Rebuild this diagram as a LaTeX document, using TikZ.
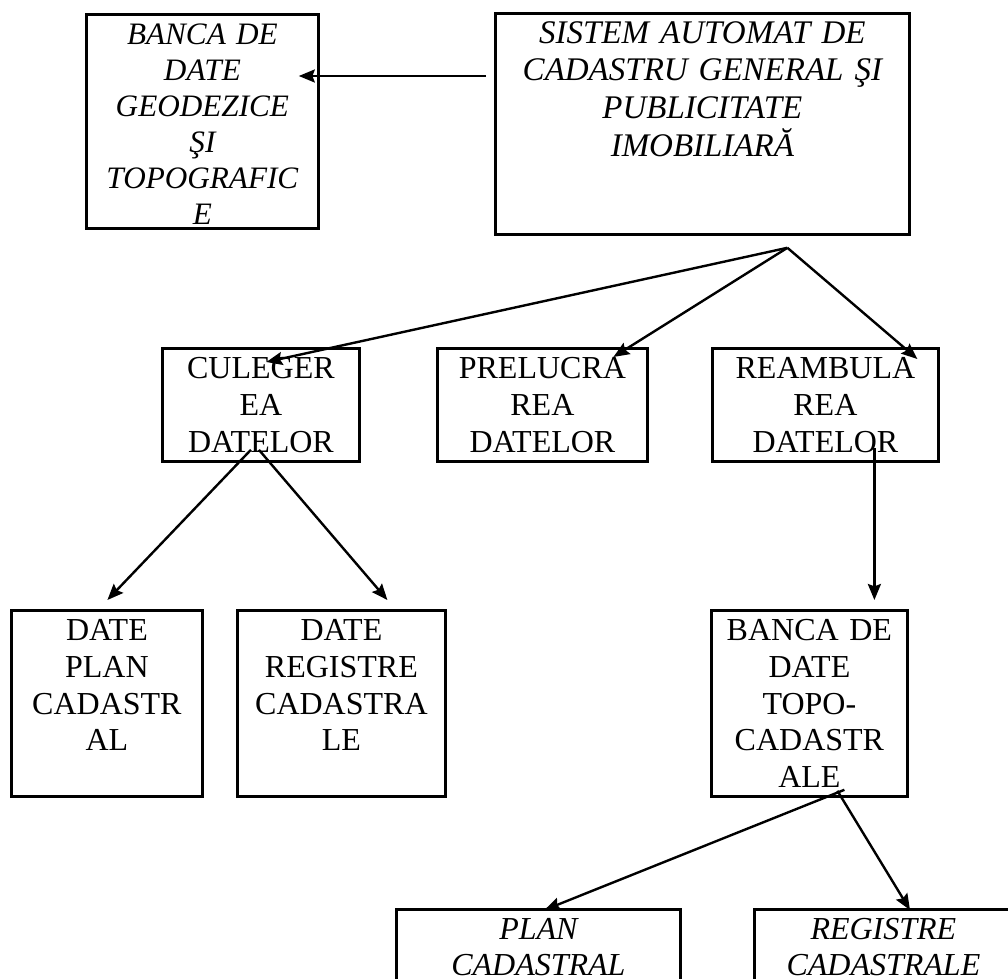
\documentclass[tikz,border=0pt]{standalone}
\usepackage{fontspec}
\setmainfont{Liberation Serif}
\usetikzlibrary{arrows.meta,calc}

\begin{document}
\begin{tikzpicture}[x=0.5pt,y=-0.5pt,>={Stealth[length=8pt,width=6.5pt,inset=1.2pt]},
                    line width=1.2pt,
                    box/.style={draw,line width=1.4pt,anchor=north west,align=center,
                      inner sep=0pt,text height=15pt,font=\fontsize{16}{18.4}\selectfont},
                    ibox/.style={box,font=\fontsize{16}{18.4}\selectfont\itshape}]
  \useasboundingbox (0,0) rectangle (1008,979);
  \clip (0,0) rectangle (1008,979);
  % top row
  \node[ibox,text width=116pt,text depth=92pt,font=\fontsize{15.6}{18}\selectfont\itshape]
    (geo) at (85,13) {BANCA DE\\DATE\\GEODEZICE\\ŞI\\TOPOGRAFIC\\E};
  \node[ibox,text width=207pt,text depth=95.5pt,font=\fontsize{16.5}{18.8}\selectfont\itshape]
    (sys) at (494,12) {SISTEM AUTOMAT DE\\CADASTRU GENERAL ŞI\\PUBLICITATE\\IMOBILIARĂ};
  % second row
  \node[box,text width=98.5pt,text depth=41.5pt] (cul) at (161,347) {CULEGER\\EA\\DATELOR};
  \node[box,text width=105pt,text depth=41.5pt] (prel) at (436,347) {PRELUCRA\\REA\\DATELOR};
  \node[box,text width=113pt,text depth=41.5pt] (reamb) at (711,347) {REAMBULA\\REA\\DATELOR};
  % third row
  \node[box,text width=95.5pt,text depth=78pt] (dplan) at (10,609) {DATE\\PLAN\\CADASTR\\AL};
  \node[box,text width=104pt,text depth=78pt] (dreg) at (236,609) {DATE\\REGISTRE\\CADASTRA\\LE};
  \node[box,text width=98pt,text depth=78pt] (topo) at (710,609) {BANCA DE\\DATE\\TOPO-\\CADASTR\\ALE};
  % bottom row
  \node[ibox,text width=142pt,text depth=51pt,font=\fontsize{16}{17.8}\selectfont\itshape]
    (plan) at (395,908) {PLAN\\CADASTRAL};
  \node[ibox,text width=129pt,text depth=51pt,font=\fontsize{16}{17.8}\selectfont\itshape]
    (reg) at (753,908) {REGISTRE\\CADASTRALE};

  \coordinate (apex) at ($(sys.south)+(85,12)$);
  \draw[->] ($(sys.north west)+(-8,64)$) -- ($(geo.north east)+(-21,63)$);
  \draw[->] (apex) -- ($(cul.north)+(5.5,15)$);
  \draw[->] (apex) -- ($(prel.north)+(71,10)$);
  \draw[->] (apex) -- ($(reamb.north)+(92,12)$);
  \draw[->] ($(cul.south)+(-10,-13)$) -- ($(dplan.north)+(0.5,-9)$);
  \draw[->] ($(cul.south)+(-2,-13)$) -- ($(dreg.north)+(46,-9)$);
  \draw[->] ($(reamb.south)+(49,-15)$) -- ($(topo.north)+(65,-9)$);
  \draw[->] ($(topo.south)+(35,-8)$) -- ($(plan.north)+(6,2)$);
  \draw[->] ($(topo.south)+(28,-7)$) -- ($(reg.north west)+(157,2)$);
\end{tikzpicture}
\end{document}
